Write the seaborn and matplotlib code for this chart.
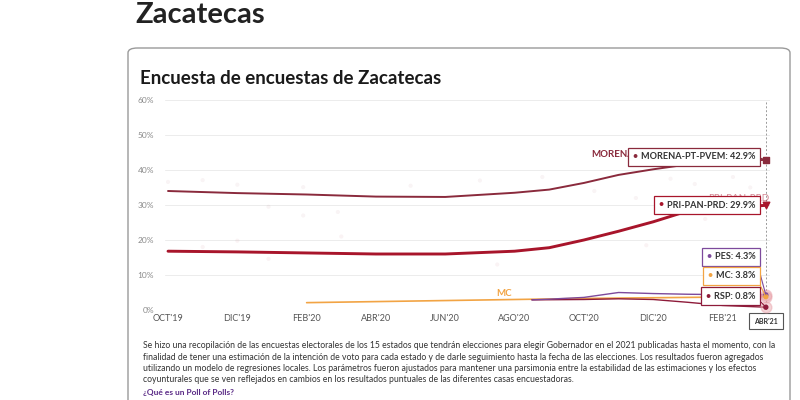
import matplotlib
matplotlib.use("Agg")
import matplotlib.pyplot as plt
import seaborn as sns
import pandas as pd
from matplotlib.patches import FancyBboxPatch
from matplotlib.offsetbox import TextArea, HPacker, AnnotationBbox

# months counted from OCT'19 = 0
tick_months = [0, 2, 4, 6, 8, 10, 12, 14, 16]
tick_labels = ["OCT'19", "DIC'19", "FEB'20", "ABR'20", "JUN'20", "AGO'20", "OCT'20", "DIC'20", "FEB'21"]
cursor_month = 17.25
cursor_label = "ABR'21"

morena_months = [0, 2, 4, 6, 8, 10, 11, 12, 13, 14, 15, 16, 17.25]
morena = [34.0, 33.4, 33.0, 32.4, 32.3, 33.5, 34.4, 36.3, 38.6, 40.2, 41.6, 42.4, 42.9]
pri_months = [0, 2, 4, 6, 8, 10, 11, 12, 13, 14, 15, 16, 17.25]
pri = [16.8, 16.6, 16.3, 16.0, 16.0, 16.8, 17.8, 20.0, 22.5, 25.2, 28.3, 29.1, 29.9]
mc_months = [4, 6, 8, 10, 12, 14, 16, 17.25]
mc = [2.1, 2.4, 2.7, 3.0, 3.3, 3.5, 3.7, 3.8]
pes_months = [10.5, 11, 12, 13, 14, 15, 16, 17.25]
pes = [2.9, 3.1, 3.6, 5.0, 4.7, 4.5, 4.4, 4.3]
rsp_months = [10.5, 12, 13, 14, 15, 16, 17.25]
rsp = [2.9, 3.0, 3.2, 3.0, 2.2, 1.3, 0.8]

# individual polls (faint dots)
poll_months = [0, 1, 2, 2.9, 3.9, 3.9, 4.9, 7, 9, 10.8, 12.3, 13.5, 14.5, 15.2, 16.3, 16.8,
               1, 2, 2.9, 5, 9.5, 13.8, 15.5, 16.5]
poll_values = [36.6, 37.1, 35.8, 29.5, 35.1, 27.0, 28.0, 35.5, 37.0, 38.0, 34.0, 32.0, 37.5, 36.0, 38.0, 35.0,
               18.0, 19.8, 14.6, 21.0, 13.0, 18.5, 26.0, 31.5]
poll_party = ["MORENA-PT-PVEM"] * 16 + ["PRI-PAN-PRD"] * 8

names = ["MORENA-PT-PVEM", "PRI-PAN-PRD", "PES", "MC", "RSP"]
last_values = [42.9, 29.9, 4.3, 3.8, 0.8]
colors = {"MORENA-PT-PVEM": "#8a2a3c", "PRI-PAN-PRD": "#a8152b", "MC": "#f2a444",
          "PES": "#7d4a9c", "RSP": "#8e1b3a"}
box_y = [43.8, 30.0, 15.2, 9.8, 3.9]

sns.set_theme(style="white")
plt.rcParams['font.family'] = ['Lato', 'DejaVu Sans']

fig = plt.figure(figsize=(8, 4), dpi=100)
fig.text(135 / 800, 1 - 15 / 400, "Zacatecas", fontsize=21, fontweight="bold",
         color="#222222", va="center", ha="left")
card = FancyBboxPatch((128 / 800, -0.02), 662 / 800, 1 - 48 / 400 + 0.02,
                      boxstyle="round,pad=0,rounding_size=0.012", transform=fig.transFigure,
                      facecolor="white", edgecolor="#9a9a9a", linewidth=1.0, clip_on=False,
                      zorder=-5)
fig.patches.append(card)
fig.text(140 / 800, 1 - 78 / 400, "Encuesta de encuestas de Zacatecas", fontsize=13.5,
         fontweight="bold", color="#1a1a1a", va="center", ha="left")

ax = fig.add_axes([165 / 800, 1 - 310 / 400, 605 / 800, 210 / 400])
ax.set_zorder(2)
ax.patch.set_alpha(0)
ax.set_xlim(-0.087, 17.37)
ax.set_ylim(0, 60)

polls = pd.DataFrame({"month": poll_months, "value": poll_values, "party": poll_party})
sns.scatterplot(data=polls, x="month", y="value", hue="party", palette=colors, s=9,
                alpha=0.05, edgecolor="none", legend=False, ax=ax)

series = [("MORENA-PT-PVEM", morena_months, morena, 1.4),
          ("PRI-PAN-PRD", pri_months, pri, 2.1),
          ("MC", mc_months, mc, 1.2),
          ("RSP", rsp_months, rsp, 1.0),
          ("PES", pes_months, pes, 1.0)]
for name, xs, ys, lw in series:
    sns.lineplot(x=xs, y=ys, color=colors[name], linewidth=lw, ax=ax, zorder=3)

ax.set_yticks(range(0, 61, 10))
ax.set_yticklabels([f"{v}%" for v in range(0, 61, 10)], fontsize=6, color="#8a8a8a")
ax.set_xticks(tick_months)
ax.set_xticklabels(tick_labels, fontsize=6.5, color="#555555")
ax.tick_params(axis="both", length=0, pad=3)
ax.tick_params(axis="y", pad=8)
ax.grid(axis="y", color="#ececec", linewidth=0.7)
for s in ax.spines.values():
    s.set_visible(False)
ax.set_xlabel("")
ax.set_ylabel("")

# cursor
ax.axvline(cursor_month, color="#9a9a9a", linestyle=(0, (2, 2)), linewidth=0.7, zorder=2)
ax.annotate(cursor_label, xy=(cursor_month, 0), xytext=(0, -8), textcoords="offset points",
            ha="center", va="center", fontsize=5, fontweight="bold", color="#333333",
            bbox=dict(boxstyle="square,pad=0.7", facecolor="white", edgecolor="#555555", linewidth=0.8),
            annotation_clip=False)

# in-line labels (partly hidden by the tooltip boxes)
ax.text(12.2, 44.3, "MORENA-PT-PVEM", fontsize=7, fontweight="bold",
        color=colors["MORENA-PT-PVEM"], va="center", ha="left", zorder=4)
ax.text(17.35, 31.8, "PRI-PAN-PRD", fontsize=7, color=colors["PRI-PAN-PRD"], alpha=0.5,
        va="center", ha="right", zorder=4)
ax.text(9.7, 4.6, "MC", fontsize=7, fontweight="bold", color=colors["MC"],
        va="center", ha="center", zorder=4)

# end markers
ax.scatter([cursor_month], [42.9], marker="s", s=22, color=colors["MORENA-PT-PVEM"], zorder=6, clip_on=False)
ax.scatter([cursor_month], [29.9], marker="v", s=22, color=colors["PRI-PAN-PRD"], zorder=6, clip_on=False)
ax.scatter([cursor_month] * 3, [4.3, 3.8, 0.8], s=60, color="#e8a0a8", alpha=0.45, zorder=5, clip_on=False)
ax.scatter([cursor_month] * 3, [4.3, 3.8, 0.8], s=8,
           color=[colors["PES"], colors["MC"], colors["RSP"]], zorder=6, clip_on=False)

# tooltip boxes
for name, val, by in zip(names, last_values, box_y):
    col = colors[name]
    dot = TextArea("\u2022", textprops=dict(color=col, fontsize=6.5, fontweight="bold"))
    lab = TextArea(f"{name}: {val}%", textprops=dict(color="#333333", fontsize=6.6, fontweight="bold"))
    pack = HPacker(children=[dot, lab], align="center", pad=0, sep=2.5)
    ab = AnnotationBbox(pack, (16.95, by), xycoords="data", box_alignment=(1, 0.5),
                        frameon=True, pad=0.5, zorder=7, annotation_clip=False,
                        bboxprops=dict(facecolor="white", edgecolor=col, linewidth=0.9,
                                       boxstyle="square"))
    ax.add_artist(ab)
    ax.plot([16.95, cursor_month], [by, val], color=col, linewidth=0.8, zorder=6, clip_on=False)

para = ["Se hizo una recopilación de las encuestas electorales de los 15 estados que tendrán elecciones para elegir Gobernador en el 2021 publicadas hasta el momento, con la",
        "finalidad de tener una estimación de la intención de voto para cada estado y de darle seguimiento hasta la fecha de las elecciones. Los resultados fueron agregados",
        "utilizando un modelo de regresiones locales. Los parámetros fueron ajustados para mantener una parsimonia entre la estabilidad de las estimaciones y los efectos",
        "coyunturales que se ven reflejados en cambios en los resultados puntuales de las diferentes casas encuestadoras."]
for i, line in enumerate(para):
    fig.text(143 / 800, 1 - (346 + i * 11.2) / 400, line, fontsize=6.2, color="#333333",
             va="center", ha="left")
fig.text(143 / 800, 1 - 392 / 400, "¿Qué es un Poll of Polls?", fontsize=6.0, fontweight="bold",
         color="#5a2a86", va="center", ha="left")

fig.savefig("out.png", dpi=100)
